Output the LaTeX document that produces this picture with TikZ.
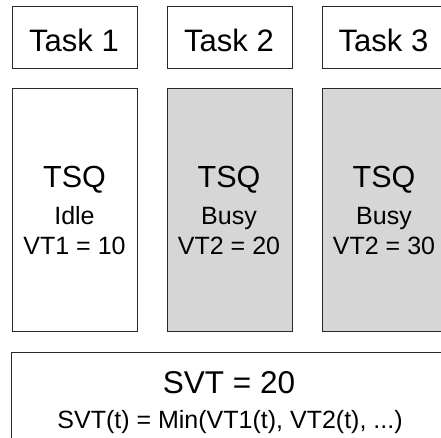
\documentclass[tikz,border=0pt]{standalone}
\usepackage{fontspec}
\setmainfont{Liberation Sans}
\definecolor{busygray}{RGB}{214,214,214}
\definecolor{edgegray}{RGB}{40,40,40}
\begin{document}
\begin{tikzpicture}[x=1pt,y=-1pt,
  boxline/.style={draw=edgegray,line width=1pt},
  idlebox/.style={boxline,fill=white},
  busybox/.style={boxline,fill=busygray},
  txt/.style={anchor=base,inner sep=0pt,text=black},
  tasktxt/.style={txt,font=\fontsize{31}{32}\selectfont},
  bigtxt/.style={txt,font=\fontsize{30.5}{31}\selectfont},
  smalltxt/.style={txt,font=\fontsize{25}{26}\selectfont},
  svttxt/.style={txt,font=\fontsize{31.5}{32}\selectfont},
  formtxt/.style={txt,font=\fontsize{25}{26}\selectfont}]
% page frame, y grows downward
\useasboundingbox (0,0) rectangle (441,438);
\clip (0,0) rectangle (441,438);
\fill[white] (0,0) rectangle (441,438);

% task header boxes
\draw[boxline] (12,7) rectangle (137,69);
\draw[boxline] (167,7) rectangle (292,69);
\draw[boxline] (322,7) rectangle (447,69);
\node[tasktxt] (task1) at (74,51.5) {Task 1};
\node[tasktxt] (task2) at (229,51.5) {Task 2};
\node[tasktxt] (task3) at (383.5,51.5) {Task 3};

% queue boxes
\draw[idlebox] (12,89) rectangle (137,331);
\draw[busybox] (167,89) rectangle (292,331);
\draw[busybox] (322,89) rectangle (447,331);

\node[bigtxt] (q1) at (74.5,188) {TSQ};
\node[smalltxt] (s1) at (74.5,224.5) {Idle};
\node[smalltxt] (v1) at (74.5,254.5) {VT1 = 10};

\node[bigtxt] (q2) at (229,188) {TSQ};
\node[smalltxt] (s2) at (229,224.5) {Busy};
\node[smalltxt] (v2) at (229,254.5) {VT2 = 20};

\node[bigtxt] (q3) at (384,188) {TSQ};
\node[smalltxt] (s3) at (384,224.5) {Busy};
\node[smalltxt] (v3) at (384,254.5) {VT2 = 30};

% global virtual time box
\draw[boxline] (11,352) rectangle (447,450);
\node[svttxt] (svt) at (229,393) {SVT = 20};
\node[formtxt] (svtf) at (230,428) {SVT(t) = Min(VT1(t), VT2(t), ...)};
\end{tikzpicture}
\end{document}
